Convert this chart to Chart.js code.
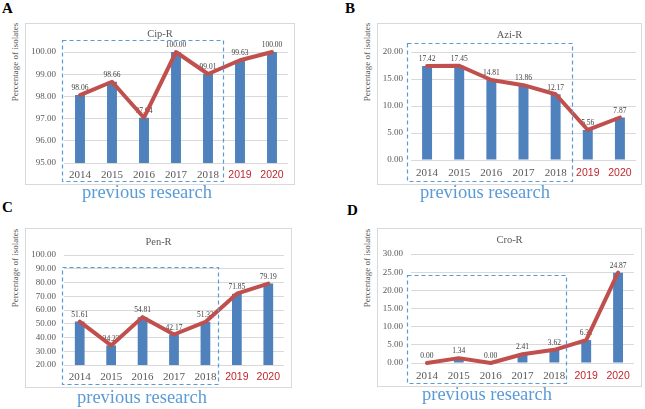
<!DOCTYPE html>
<html><head><meta charset="utf-8">
<script src="https://cdn.jsdelivr.net/npm/chart.js@4/dist/chart.umd.min.js"></script>
<style>
body{margin:0;width:645px;height:409px;background:#fff;position:relative;overflow:hidden;font-family:"Liberation Serif",serif}
canvas{position:absolute}
.ytitle{position:absolute;width:100px;height:10px;line-height:10px;text-align:center;transform:rotate(-90deg);font-size:9px;color:#595959;white-space:nowrap}
.letter{position:absolute;font-weight:bold;font-size:15px;line-height:1;color:#000}
.prev{position:absolute;font-size:18.5px;color:#5b9bd5;line-height:1;white-space:nowrap}
</style></head><body>
<canvas id="cA" width="270" height="162" style="left:25px;top:23px"></canvas>
<canvas id="cB" width="265" height="162" style="left:377px;top:23px"></canvas>
<canvas id="cC" width="267" height="160" style="left:25px;top:228px"></canvas>
<canvas id="cD" width="265" height="159" style="left:377px;top:228px"></canvas>

<div class="letter" style="left:2px;top:1px">A</div>
<div class="letter" style="left:345px;top:1px">B</div>
<div class="letter" style="left:2px;top:200px">C</div>
<div class="letter" style="left:347px;top:203px">D</div>

<div class="ytitle" style="left:-35px;top:57px">Percentage of isolates</div>
<div class="ytitle" style="left:317px;top:57px">Percentage of isolates</div>
<div class="ytitle" style="left:-35px;top:263px">Percentage of isolates</div>
<div class="ytitle" style="left:317px;top:263px">Percentage of isolates</div>

<div class="prev" style="left:82px;top:183px">previous research</div>
<div class="prev" style="left:420px;top:183px">previous research</div>
<div class="prev" style="left:77px;top:388px">previous research</div>
<div class="prev" style="left:422px;top:385px">previous research</div>

<script>
// ---- data ----
const years = ['2014', '2015', '2016', '2017', '2018', '2019', '2020'];
const newYears = ['2019', '2020'];
const previousYears = ['2014', '2015', '2016', '2017', '2018'];
const cipR = [98.06, 98.66, 97.04, 100.00, 99.01, 99.63, 100.00];
const aziR = [17.42, 17.45, 14.81, 13.86, 12.17, 5.56, 7.87];
const penR = [51.61, 34.23, 54.81, 42.17, 51.33, 71.85, 79.19];
const croR = [0.00, 1.34, 0.00, 2.41, 3.62, 6.31, 24.87];
const cipTicks = [95, 96, 97, 98, 99, 100];
const aziTicks = [0, 5, 10, 15, 20];
const penTicks = [20, 30, 40, 50, 60, 70, 80, 90, 100];
const croTicks = [0, 5, 10, 15, 20, 25, 30];
const titles = ['Cip-R', 'Azi-R', 'Pen-R', 'Cro-R'];

// ---- styles ----
const BAR = '#4f81bd', LINE = '#c0504d', GRID = '#d9d9d9', TXT = '#595959', RED = '#c0272d', DASH = '#5b9bd5';

const decor = {
  id: 'decor',
  beforeDraw(chart, args, o) {
    const ctx = chart.ctx;
    ctx.save();
    ctx.strokeStyle = GRID; ctx.lineWidth = 1;
    ctx.strokeRect(0.5, 0.5, chart.width - 1, chart.height - 1);
    ctx.fillStyle = TXT;
    ctx.font = '10.5px "Liberation Serif"';
    ctx.textAlign = 'center'; ctx.textBaseline = 'middle';
    ctx.fillText(o.title, chart.width / 2, o.titleY);
    ctx.restore();
  },
  afterDatasetDraw(chart, args, o) {
    if (args.index !== 0) return;
    const ctx = chart.ctx;
    ctx.save();
    ctx.fillStyle = '#404040';
    ctx.font = '7.5px "Liberation Serif"';
    ctx.textAlign = 'center'; ctx.textBaseline = 'bottom';
    const ds = chart.data.datasets[0];
    args.meta.data.forEach((el, i) => {
      ctx.fillText(ds.data[i].toFixed(2), el.x, el.y - 3);
    });
    ctx.restore();
  },
  afterDraw(chart, args, o) {
    const ctx = chart.ctx, x = chart.scales.x, y = chart.scales.y;
    const labels = chart.data.labels;
    const i0 = labels.indexOf(previousYears[0]), i1 = labels.indexOf(previousYears[previousYears.length - 1]);
    const half = (x.getPixelForValue(1) - x.getPixelForValue(0)) / 2;
    const left = x.getPixelForValue(i0) - half + o.dl;
    const right = x.getPixelForValue(i1) + half + o.dr;
    const top = y.getPixelForValue(o.dashTop);
    const bottom = chart.height - 4;
    ctx.save();
    ctx.strokeStyle = DASH; ctx.lineWidth = 1.2; ctx.setLineDash([4, 3]);
    ctx.strokeRect(Math.round(left) + 0.5, Math.round(top) + 0.5, Math.round(right - left), Math.round(bottom - top));
    ctx.restore();
  }
};

function makeChart(id, values, tickVals, title, p) {
  return new Chart(document.getElementById(id), {
    type: 'bar',
    data: {
      labels: years,
      datasets: [
        { type: 'bar', data: values, backgroundColor: BAR, barPercentage: 0.31, categoryPercentage: 1, order: 2 },
        { type: 'line', data: values, borderColor: LINE, borderWidth: 4, pointRadius: 0, tension: 0, clip: false, order: 1, borderJoinStyle: 'round', borderCapStyle: 'round' }
      ]
    },
    options: {
      responsive: false, animation: false, events: [],
      layout: { padding: { top: p.top, right: p.right, bottom: 0, left: 0 } },
      plugins: { legend: { display: false }, tooltip: { enabled: false },
        decor: { title: title, titleY: p.titleY, dashTop: p.dashTop, dl: p.dl, dr: p.dr } },
      scales: {
        x: {
          grid: { display: false, drawTicks: false }, border: { display: false },
          ticks: {
            padding: p.xpad, autoSkip: false, maxRotation: 0,
            color: c => newYears.includes(years[c.index]) ? RED : TXT,
            font: c => newYears.includes(years[c.index]) ? { family: 'Liberation Sans', size: 10.5 } : { family: 'Liberation Serif', size: 11 }
          },
          afterFit: s => { s.height = p.xh; }
        },
        y: {
          min: tickVals[0], max: tickVals[tickVals.length - 1],
          grid: { color: GRID, drawTicks: false }, border: { display: false },
          ticks: { autoSkip: false, padding: p.ypad, color: TXT, font: { family: 'Liberation Serif', size: 9 }, callback: v => Number(v).toFixed(2) },
          afterBuildTicks: s => { s.ticks = tickVals.map(v => ({ value: v })); },
          afterFit: s => { s.width = p.yw; }
        }
      }
    },
    plugins: [decor]
  });
}

makeChart('cA', cipR, cipTicks, titles[0], { top: 29, right: 7, yw: 39, xh: 22, xpad: 6, ypad: 8, titleY: 11, dashTop: 100.54, dl: -2, dr: -1 });
makeChart('cB', aziR, aziTicks, titles[1], { top: 29, right: 6, yw: 34, xh: 25, xpad: 7, ypad: 8, titleY: 12, dashTop: 21.67, dl: -4, dr: 0 });
makeChart('cC', penR, penTicks, titles[2], { top: 27, right: 8, yw: 39, xh: 23, xpad: 6, ypad: 8, titleY: 14, dashTop: 91.3, dl: -2, dr: -3 });
makeChart('cD', croR, croTicks, titles[3], { top: 26, right: 8, yw: 34, xh: 24, xpad: 7, ypad: 8, titleY: 12, dashTop: 24.2, dl: -4, dr: -4 });
</script>
</body></html>
